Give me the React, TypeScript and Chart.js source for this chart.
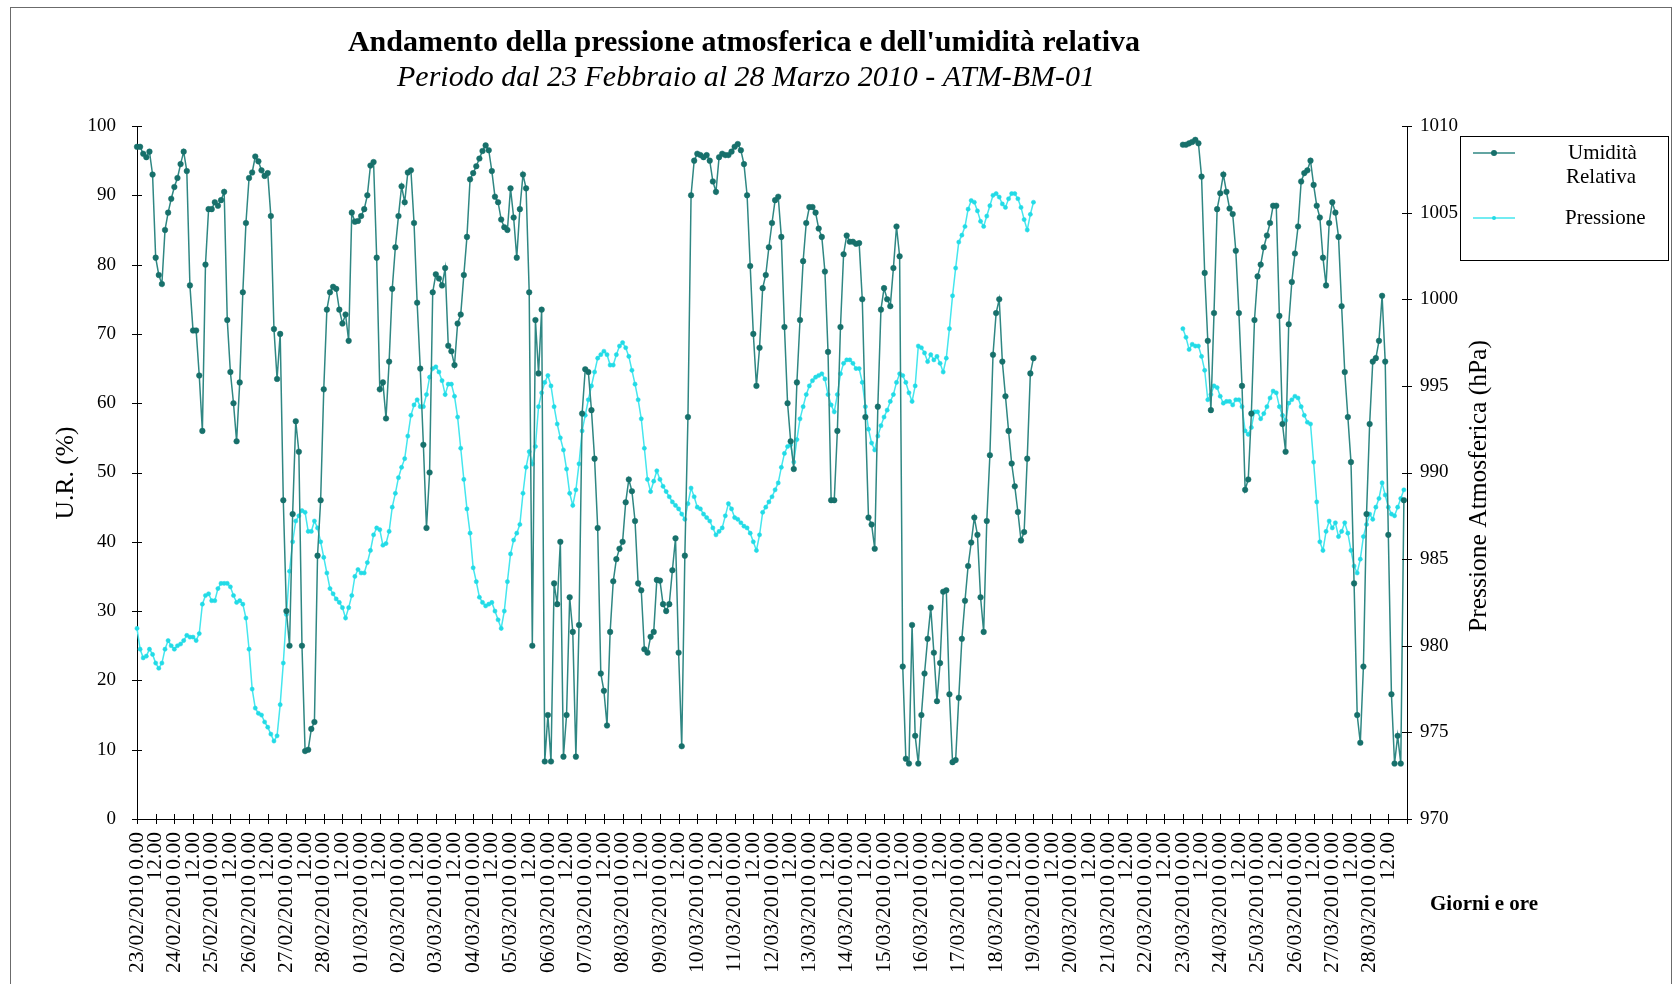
import React, { useEffect, useRef } from 'react';
import { Chart, registerables } from 'chart.js';

Chart.register(...registerables);

// ---------- data ----------
const DAYS = [
  '23/02/2010', '24/02/2010', '25/02/2010', '26/02/2010', '27/02/2010', '28/02/2010',
  '01/03/2010', '02/03/2010', '03/03/2010', '04/03/2010', '05/03/2010', '06/03/2010',
  '07/03/2010', '08/03/2010', '09/03/2010', '10/03/2010', '11/03/2010', '12/03/2010',
  '13/03/2010', '14/03/2010', '15/03/2010', '16/03/2010', '17/03/2010', '18/03/2010',
  '19/03/2010', '20/03/2010', '21/03/2010', '22/03/2010', '23/03/2010', '24/03/2010',
  '25/03/2010', '26/03/2010', '27/03/2010', '28/03/2010',
];

const STEP_HOURS = 2;
const AXIS_END_HOURS = 816;
const SEG1_START_HOURS = 0;   // 23/02/2010 0.00
const SEG2_START_HOURS = 672; // 23/03/2010 0.00

// Umidità relativa (%), every 2 hours
const HUMIDITY_SEG1 = [
  97, 97, 96, 95.5, 96.3, 93, 81, 78.5, 77.2, 85, 87.5, 89.5,
  91.2, 92.5, 94.5, 96.3, 93.5, 77, 70.5, 70.5, 64, 56, 80, 88,
  88, 89, 88.5, 89.3, 90.5, 72, 64.5, 60, 54.5, 63, 76, 86,
  92.5, 93.3, 95.6, 94.9, 93.6, 92.8, 93.2, 87, 70.7, 63.5, 70, 46,
  30, 25, 44, 57.4, 53, 25, 9.8, 10, 13, 14, 38, 46,
  62, 73.5, 76, 76.8, 76.5, 73.5, 71.5, 72.8, 69, 87.5, 86.2, 86.3,
  87, 88, 90, 94.3, 94.8, 81, 62, 63, 57.8, 66, 76.5, 82.5,
  87, 91.3, 89, 93.3, 93.6, 86, 74.5, 65, 54, 42, 50, 76,
  78.6, 78, 77, 79.5, 68.3, 67.5, 65.5, 71.5, 72.8, 78.5, 84, 92.3,
  93.2, 94.2, 95.3, 96.4, 97.2, 96.5, 93.5, 89.8, 89, 86.5, 85.4, 85,
  91, 86.8, 81, 88, 93, 91, 76, 25, 72, 64.3, 73.5, 8.3,
  15, 8.3, 34, 31, 40, 9, 15, 32, 27, 9, 28, 58.5,
  64.9, 64.5, 59, 52, 42, 21, 18.5, 13.5, 27, 34.3, 37.5, 39,
  40, 45.7, 49, 47.3, 43, 34, 33, 24.5, 24, 26.3, 27, 34.5,
  34.4, 31, 30, 31, 35.9, 40.5, 24, 10.5, 38, 58, 90, 95,
  96, 95.8, 95.5, 95.8, 95, 92, 90.5, 95.5, 96, 95.8, 95.8, 96.3,
  97, 97.4, 96.5, 94.5, 90, 79.8, 70, 62.5, 68, 76.6, 78.5, 82.5,
  86, 89.3, 89.8, 84, 71, 60, 54.5, 50.5, 63, 72, 80.5, 86,
  88.3, 88.3, 87.5, 85.2, 84, 79, 67.4, 46, 46, 56, 71, 81.5,
  84.2, 83.3, 83.3, 83, 83.1, 75, 58, 43.5, 42.5, 39, 59.5, 73.5,
  76.6, 75, 74, 79.5, 85.5, 81.2, 22, 8.7, 8, 28, 12, 8,
  15, 21, 26, 30.5, 24, 17, 22.5, 32.8, 33, 18, 8.2, 8.5,
  17.5, 26, 31.5, 36.5, 39.9, 43.5, 41, 32, 27, 43, 52.5, 67,
  73, 75, 66, 61, 56, 51.3, 48, 44.3, 40.2, 41.4, 52, 64.3,
  66.5,
];

const HUMIDITY_SEG2 = [
  97.3, 97.3, 97.5, 97.7, 98, 97.5, 92.7, 78.8, 69, 59, 73, 88,
  90.3, 93, 90.5, 88.1, 87.3, 82, 73, 62.5, 47.5, 49, 58.5, 72,
  78.3, 80, 82.5, 84.2, 86, 88.5, 88.5, 72.6, 57, 53, 71.4, 77.5,
  81.6, 85.5, 92, 93.2, 93.6, 95, 91.5, 88.5, 86.8, 81, 77, 86,
  89, 87.5, 84, 74, 64.5, 58, 51.5, 34, 15, 11, 22, 44,
  57, 66, 66.5, 69, 75.5, 66, 41, 18, 8, 12, 8, 46,
];

// Pressione atmosferica (hPa), every 2 hours
const PRESSURE_SEG1 = [
  981, 979.8, 979.3, 979.4, 979.8, 979.5, 979, 978.7, 979, 979.8, 980.3, 980,
  979.8, 980, 980.1, 980.3, 980.6, 980.5, 980.5, 980.3, 980.7, 982.4, 982.9, 983,
  982.6, 982.6, 983.3, 983.6, 983.6, 983.6, 983.4, 982.9, 982.5, 982.6, 982.4, 981.6,
  979.8, 977.5, 976.4, 976.1, 976, 975.6, 975.3, 974.9, 974.5, 974.8, 976.6, 979,
  981.8, 984.3, 986, 987.2, 987.5, 987.8, 987.7, 986.6, 986.6, 987.2, 986.8, 986,
  985.1, 984.2, 983.3, 983, 982.7, 982.5, 982.2, 981.6, 982.2, 982.9, 984, 984.4,
  984.2, 984.2, 984.8, 985.5, 986.4, 986.8, 986.7, 985.8, 985.9, 986.6, 988, 988.8,
  989.7, 990.3, 990.8, 992.1, 993.3, 993.9, 994.2, 993.8, 993.8, 994.5, 995.5, 996,
  996.1, 995.8, 995.3, 994.5, 995.1, 995.1, 994.4, 993.2, 991.4, 989.6, 987.9, 986.5,
  984.5, 983.7, 982.8, 982.5, 982.3, 982.4, 982.5, 982, 981.5, 981, 982, 983.7,
  985.3, 986.1, 986.5, 987, 988.8, 990.3, 991.2, 990.5, 991.5, 993.8, 994.6, 995.2,
  995.6, 995, 993.8, 992.8, 992, 991.3, 990.2, 988.8, 988.1, 989, 990.5, 992.4,
  993.3, 994.2, 995, 995.8, 996.6, 996.8, 997, 996.8, 996.2, 996.2, 996.8, 997.3,
  997.5, 997.2, 996.7, 995.9, 995.1, 994.2, 993.1, 991.4, 989.6, 988.9, 989.5, 990.1,
  989.6, 989.2, 988.9, 988.6, 988.3, 988.1, 987.9, 987.6, 987.3, 988.2, 989.1, 988.6,
  988, 987.9, 987.6, 987.4, 987.2, 986.8, 986.4, 986.6, 986.8, 987.5, 988.2, 987.9,
  987.4, 987.3, 987.1, 986.9, 986.8, 986.5, 986, 985.5, 986.4, 987.7, 988, 988.3,
  988.6, 989, 989.4, 990.3, 991.1, 991.5, 991.6, 990.6, 991.9, 993.1, 993.8, 994.5,
  995, 995.3, 995.5, 995.6, 995.7, 995.4, 994.5, 993.9, 993.5, 994.5, 995.7, 996.3,
  996.5, 996.5, 996.3, 996, 996, 995.2, 993.8, 992.5, 991.7, 991.3, 992.1, 992.7,
  993.2, 993.6, 994.1, 994.5, 995.2, 995.7, 995.6, 995.2, 994.6, 994.1, 995, 997.3,
  997.2, 996.9, 996.4, 996.8, 996.5, 996.7, 996.3, 995.8, 996.6, 998.3, 1000.2, 1001.8,
  1003.3, 1003.7, 1004.2, 1005.2, 1005.7, 1005.6, 1005.1, 1004.5, 1004.2, 1004.8, 1005.4, 1006,
  1006.1, 1005.9, 1005.5, 1005.3, 1005.8, 1006.1, 1006.1, 1005.8, 1005.3, 1004.6, 1004, 1004.9,
  1005.6,
];

const PRESSURE_SEG2 = [
  998.3, 997.8, 997.1, 997.4, 997.3, 997.3, 996.7, 995.9, 994.2, 994.5, 995, 994.9,
  994.4, 994, 994.1, 994.1, 993.9, 994.2, 994.2, 993.8, 992.4, 992.2, 992.6, 993.5,
  993.5, 993.1, 993.4, 993.8, 994.3, 994.7, 994.6, 993.8, 993.3, 993, 994, 994.2,
  994.4, 994.3, 993.8, 993.3, 992.9, 992.8, 990.6, 988.3, 986, 985.5, 986.6, 987.2,
  986.8, 987.1, 986.3, 986.6, 987.1, 986.5, 985.5, 984.6, 984.2, 985, 986.3, 987,
  987.6, 987.3, 988, 988.5, 989.4, 988.7, 988, 987.6, 987.5, 988, 988.5, 989,
];

const TITLE = "Andamento della pressione atmosferica e dell'umidità relativa";
const SUBTITLE = 'Periodo dal 23 Febbraio al 28 Marzo 2010 - ATM-BM-01';
const Y_TITLE = 'U.R. (%)';
const Y1_TITLE = 'Pressione Atmosferica (hPa)';
const X_TITLE = 'Giorni e ore';
const LEGEND_HUM = ['Umidità', 'Relativa'];
const LEGEND_PRES = 'Pressione';

const HUM_LINE = '#2f8783';
const HUM_POINT = '#17706b';
const PRES_LINE = '#45e6ee';
const PRES_POINT = '#22dbe6';
const SERIF = "'Liberation Serif', 'Times New Roman', serif";

function buildPoints(seg1: number[], seg2: number[]) {
  const pts: { x: number; y: number | null }[] = [];
  seg1.forEach((v, i) => pts.push({ x: SEG1_START_HOURS + i * STEP_HOURS, y: v }));
  pts.push({ x: (SEG1_START_HOURS + (seg1.length - 1) * STEP_HOURS + SEG2_START_HOURS) / 2, y: null });
  seg2.forEach((v, i) => pts.push({ x: SEG2_START_HOURS + i * STEP_HOURS, y: v }));
  return pts;
}

const decorPlugin = {
  id: 'decor',
  afterDraw(chart: any) {
    const { ctx, chartArea: ca, scales } = chart;
    const xs = scales.x, yl = scales.y, yr = scales.y1;
    ctx.save();
    // crossing tick marks
    ctx.strokeStyle = '#000';
    ctx.lineWidth = 1;
    ctx.beginPath();
    xs.ticks.forEach((t: any) => {
      const px = Math.round(xs.getPixelForValue(t.value)) + 0.5;
      ctx.moveTo(px, ca.bottom - 5);
      ctx.lineTo(px, ca.bottom + 5);
    });
    yl.ticks.forEach((t: any) => {
      const py = Math.round(yl.getPixelForValue(t.value)) + 0.5;
      ctx.moveTo(ca.left - 5, py);
      ctx.lineTo(ca.left + 5, py);
    });
    yr.ticks.forEach((t: any) => {
      const py = Math.round(yr.getPixelForValue(t.value)) + 0.5;
      ctx.moveTo(ca.right - 5, py);
      ctx.lineTo(ca.right + 5, py);
    });
    ctx.stroke();

    // outer frame
    ctx.strokeStyle = '#6b6b6b';
    ctx.strokeRect(10.5, 7.5, 1661, 1000);

    ctx.fillStyle = '#000';
    ctx.textBaseline = 'middle';
    // titles
    ctx.textAlign = 'center';
    ctx.font = `bold 30px ${SERIF}`;
    ctx.fillText(TITLE, 744, 43);
    ctx.font = `italic 30px ${SERIF}`;
    ctx.fillText(SUBTITLE, 746, 78);

    // axis titles
    ctx.font = `25.5px ${SERIF}`;
    ctx.save();
    ctx.translate(66, 473);
    ctx.rotate(-Math.PI / 2);
    ctx.fillText(Y_TITLE, 0, 0);
    ctx.restore();
    ctx.save();
    ctx.translate(1479, 486);
    ctx.rotate(-Math.PI / 2);
    ctx.fillText(Y1_TITLE, 0, 0);
    ctx.restore();

    ctx.font = `bold 21px ${SERIF}`;
    ctx.textAlign = 'left';
    ctx.fillText(X_TITLE, 1430, 905);

    // legend
    ctx.strokeStyle = '#000';
    ctx.lineWidth = 1;
    ctx.strokeRect(1460.5, 136.5, 208, 124);
    ctx.lineWidth = 1.5;
    ctx.strokeStyle = HUM_LINE;
    ctx.beginPath();
    ctx.moveTo(1473, 153);
    ctx.lineTo(1515, 153);
    ctx.stroke();
    ctx.fillStyle = HUM_POINT;
    ctx.beginPath();
    ctx.arc(1494, 153, 3, 0, Math.PI * 2);
    ctx.fill();
    ctx.strokeStyle = PRES_LINE;
    ctx.beginPath();
    ctx.moveTo(1473, 218);
    ctx.lineTo(1515, 218);
    ctx.stroke();
    ctx.fillStyle = PRES_POINT;
    ctx.beginPath();
    ctx.arc(1494, 218, 2, 0, Math.PI * 2);
    ctx.fill();
    ctx.fillStyle = '#000';
    ctx.font = `21px ${SERIF}`;
    ctx.fillText(LEGEND_HUM[0], 1568, 153);
    ctx.fillText(LEGEND_HUM[1], 1566, 177);
    ctx.fillText(LEGEND_PRES, 1565, 218);
    ctx.restore();
  },
};

export default function App() {
  const ref = useRef<HTMLCanvasElement>(null);
  useEffect(() => {
    const canvas = ref.current;
    if (!canvas) return;
    const tickFont = { family: SERIF, size: 19 };
    const chart = new Chart(canvas, {
      type: 'line',
      data: {
        datasets: [
          {
            label: 'Umidità Relativa',
            data: buildPoints(HUMIDITY_SEG1, HUMIDITY_SEG2) as any,
            yAxisID: 'y',
            borderColor: HUM_LINE,
            borderWidth: 1.5,
            pointRadius: 2.8,
            pointBackgroundColor: HUM_POINT,
            pointBorderColor: HUM_POINT,
            pointBorderWidth: 0.5,
            tension: 0,
            spanGaps: false,
            clip: 6,
          },
          {
            label: 'Pressione',
            data: buildPoints(PRESSURE_SEG1, PRESSURE_SEG2) as any,
            yAxisID: 'y1',
            borderColor: PRES_LINE,
            borderWidth: 1.5,
            pointRadius: 2.1,
            pointBackgroundColor: PRES_POINT,
            pointBorderColor: PRES_POINT,
            pointBorderWidth: 0.5,
            tension: 0,
            spanGaps: false,
            clip: 6,
          },
        ],
      },
      options: {
        responsive: false,
        animation: false,
        devicePixelRatio: 1,
        layout: { padding: { top: 126, left: 0, right: 0, bottom: 0 } },
        plugins: { legend: { display: false }, tooltip: { enabled: false }, title: { display: false } },
        scales: {
          x: {
            type: 'linear',
            min: 0,
            max: AXIS_END_HOURS,
            grid: { display: false, drawTicks: false },
            border: { display: true, color: '#000', width: 1 },
            ticks: {
              stepSize: 12,
              autoSkip: false,
              maxTicksLimit: 200,
              minRotation: 90,
              maxRotation: 90,
              padding: 13,
              color: '#000',
              font: { family: SERIF, size: 21.5 },
              callback: (value: any) => {
                const idx = Math.round(Number(value) / 12);
                if (idx >= DAYS.length * 2) return '';
                return idx % 2 === 0 ? `${DAYS[idx / 2]} 0.00` : '12.00';
              },
            },
            afterFit: (s: any) => { s.height = 165; },
          },
          y: {
            position: 'left',
            min: 0,
            max: 100,
            grid: { display: false, drawTicks: false },
            border: { display: true, color: '#000', width: 1 },
            ticks: { stepSize: 10, padding: 21, color: '#000', font: tickFont, callback: (v: any) => String(v) },
            afterFit: (s: any) => { s.width = 137; },
          },
          y1: {
            position: 'right',
            min: 970,
            max: 1010,
            grid: { display: false, drawTicks: false },
            border: { display: true, color: '#000', width: 1 },
            ticks: { stepSize: 5, padding: 13, color: '#000', font: tickFont, callback: (v: any) => String(v) },
            afterFit: (s: any) => { s.width = 267; },
          },
        },
      } as any,
      plugins: [decorPlugin],
    });
    return () => chart.destroy();
  }, []);

  return (
    <div style={{ position: 'fixed', left: 0, top: 0, width: 1674, height: 984, background: '#fff' }}>
      <canvas ref={ref} width={1674} height={984} style={{ width: 1674, height: 984, display: 'block' }} />
    </div>
  );
}
